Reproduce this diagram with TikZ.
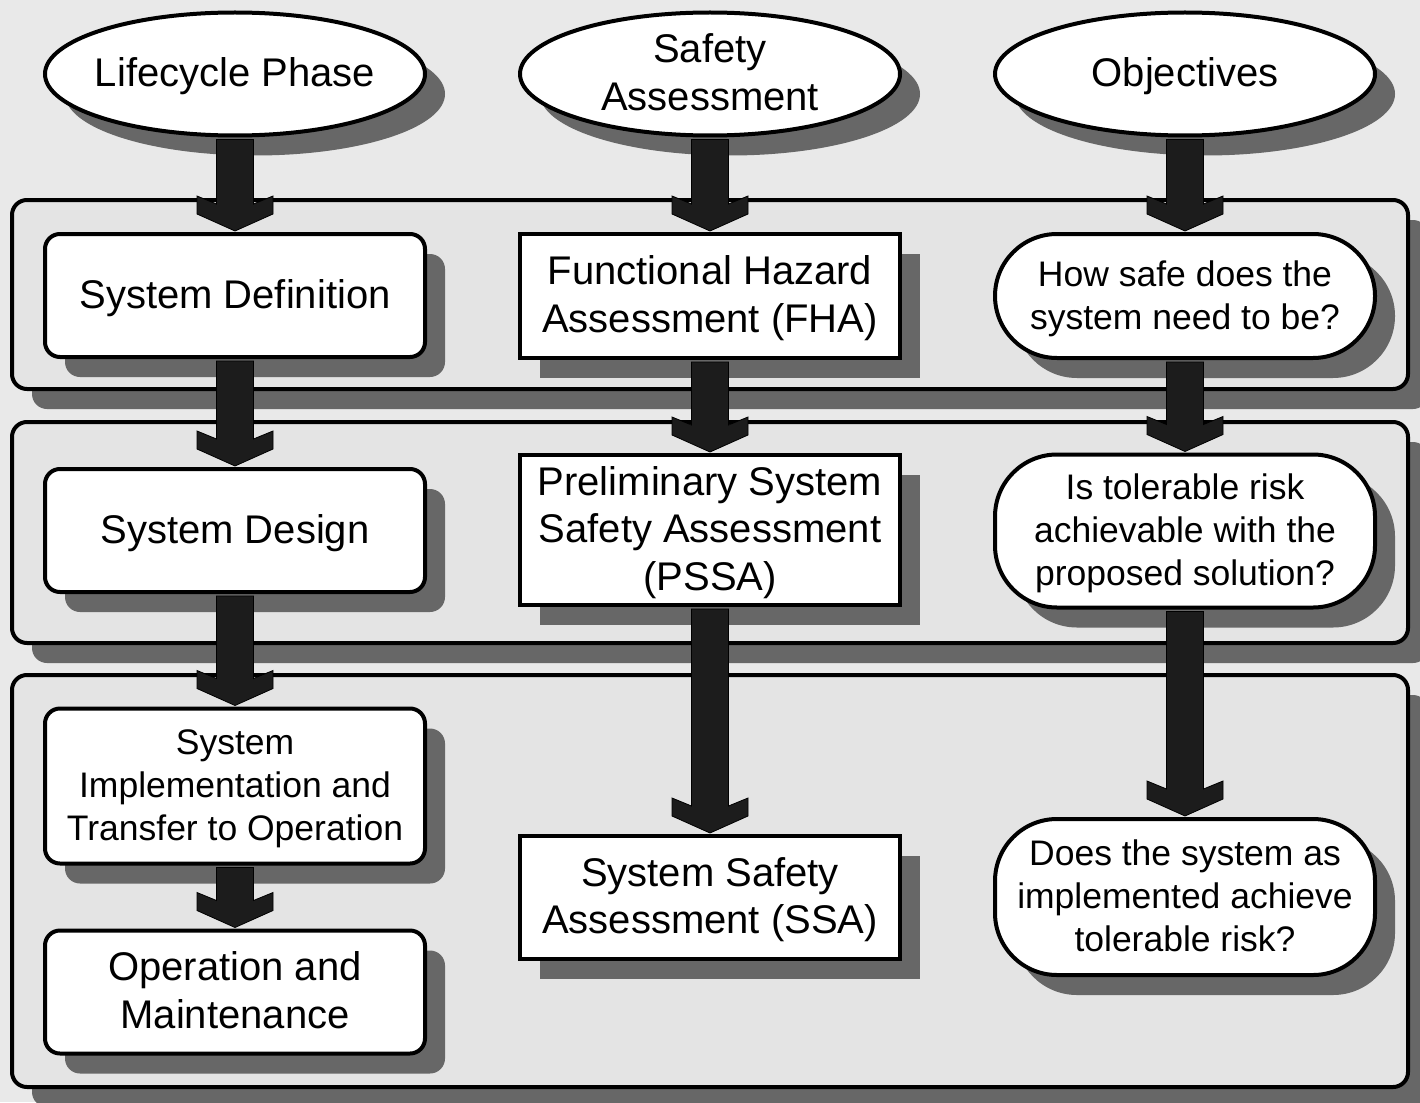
\documentclass[tikz,border=0pt]{standalone}
\usepackage{fontspec}
\setmainfont{Liberation Sans}
\usetikzlibrary{shapes.geometric,shadows,calc}
\definecolor{bgc}{HTML}{E9E9E9}
\definecolor{panelc}{HTML}{E4E4E4}
\definecolor{shadowc}{HTML}{676767}
\definecolor{arrowc}{HTML}{1C1C1C}

\tikzset{
  shade20/.style={drop shadow={shadow xshift=20pt,shadow yshift=-20pt,fill=shadowc,opacity=1}},
  base/.style={draw=black,line width=4pt,fill=white,inner sep=0pt,align=center,
    minimum width=380pt,shade20},
  bigtxt/.style={font=\fontsize{40}{47.5}\selectfont},
  smalltxt/.style={font=\fontsize{35.5}{43}\selectfont},
  header/.style={base,ellipse,bigtxt,inner sep=-30pt,minimum height=123pt},
  phasebox/.style={base,rectangle,rounded corners=15pt},
  saferect/.style={base,rectangle},
  question/.style={base,rectangle,rounded corners=62pt,smalltxt},
  panel/.style={draw=black,line width=4pt,fill=panelc,rounded corners=15pt},
  panelshadow/.style={fill=shadowc,rounded corners=15pt},
  blockarrow/.style={fill=arrowc,draw=black,line width=0.8pt,line join=miter},
}

% centred lines of text, set slightly low within the box
\newcommand{\lines}[1]{\raisebox{-3pt}[\height][\depth]{\begin{tabular}{@{}c@{}}#1\end{tabular}}}

% thick block arrow from the bottom of one node to the top of another
\newcommand{\blockconnect}[2]{%
  \path[blockarrow] let \p1=(#1.south), \p2=(#2.north) in
    ({\x1-18.5pt},{\y1-2pt}) -- ({\x1-18.5pt},{\y2+28pt}) -- ({\x1-38pt},{\y2+36pt})
    -- ({\x1-38pt},{\y2+18pt}) -- (\x1,{\y2+1pt}) -- ({\x1+38pt},{\y2+18pt})
    -- ({\x1+38pt},{\y2+36pt}) -- ({\x1+18.5pt},{\y2+28pt}) -- ({\x1+18.5pt},{\y1-2pt}) -- cycle;}

\begin{document}
\begin{tikzpicture}[x=1pt,y=-1pt]
\useasboundingbox (0,0) rectangle (1420,1102);
\fill[bgc] (0,0) rectangle (1420,1102);

% horizontal stage bands
\fill[panelshadow] (32,220) rectangle (1428,409);
\draw[panel] (12,200) rectangle (1408,389);
\fill[panelshadow] (32,442) rectangle (1428,663);
\draw[panel] (12,422) rectangle (1408,643);
\fill[panelshadow] (32,695) rectangle (1428,1107);
\draw[panel] (12,675) rectangle (1408,1087);

% column headers
\node[header] (lc) at (235,74) {\lines{Lifecycle Phase}};
\node[header] (sa) at (710,74) {\lines{Safety\\Assessment}};
\node[header] (ob) at (1185,74) {\lines{Objectives}};

% lifecycle phases
\node[phasebox,bigtxt,minimum height=123pt] (sdef) at (235,295.5) {\lines{System Definition}};
\node[phasebox,bigtxt,minimum height=123pt] (sdes) at (235,530.5) {\lines{System Design}};
\node[phasebox,smalltxt,minimum height=155pt] (simp) at (235,786) {\lines{System\\Implementation and\\Transfer to Operation}};
\node[phasebox,bigtxt,minimum height=123pt] (opm) at (235,992) {\lines{Operation and\\Maintenance}};

% safety assessment steps
\node[saferect,bigtxt,minimum height=124pt] (fha) at (710,296) {\lines{Functional Hazard\\Assessment (FHA)}};
\node[saferect,bigtxt,minimum height=150pt] (pssa) at (710,530) {\lines{Preliminary System\\Safety Assessment\\(PSSA)}};
\node[saferect,bigtxt,minimum height=123pt] (ssa) at (710,897.5) {\lines{System Safety\\Assessment (SSA)}};

% objectives
\node[question,minimum height=124pt] (q1) at (1185,296) {\lines{How safe does the\\system need to be?}};
\node[question,minimum height=153pt] (q2) at (1185,531) {\lines{Is tolerable risk\\achievable with the\\proposed solution?}};
\node[question,minimum height=156pt] (q3) at (1185,897) {\lines{Does the system as\\implemented achieve\\tolerable risk?}};

% flow arrows
\blockconnect{lc}{sdef}
\blockconnect{sdef}{sdes}
\blockconnect{sdes}{simp}
\blockconnect{simp}{opm}
\blockconnect{sa}{fha}
\blockconnect{fha}{pssa}
\blockconnect{pssa}{ssa}
\blockconnect{ob}{q1}
\blockconnect{q1}{q2}
\blockconnect{q2}{q3}
\end{tikzpicture}
\end{document}
